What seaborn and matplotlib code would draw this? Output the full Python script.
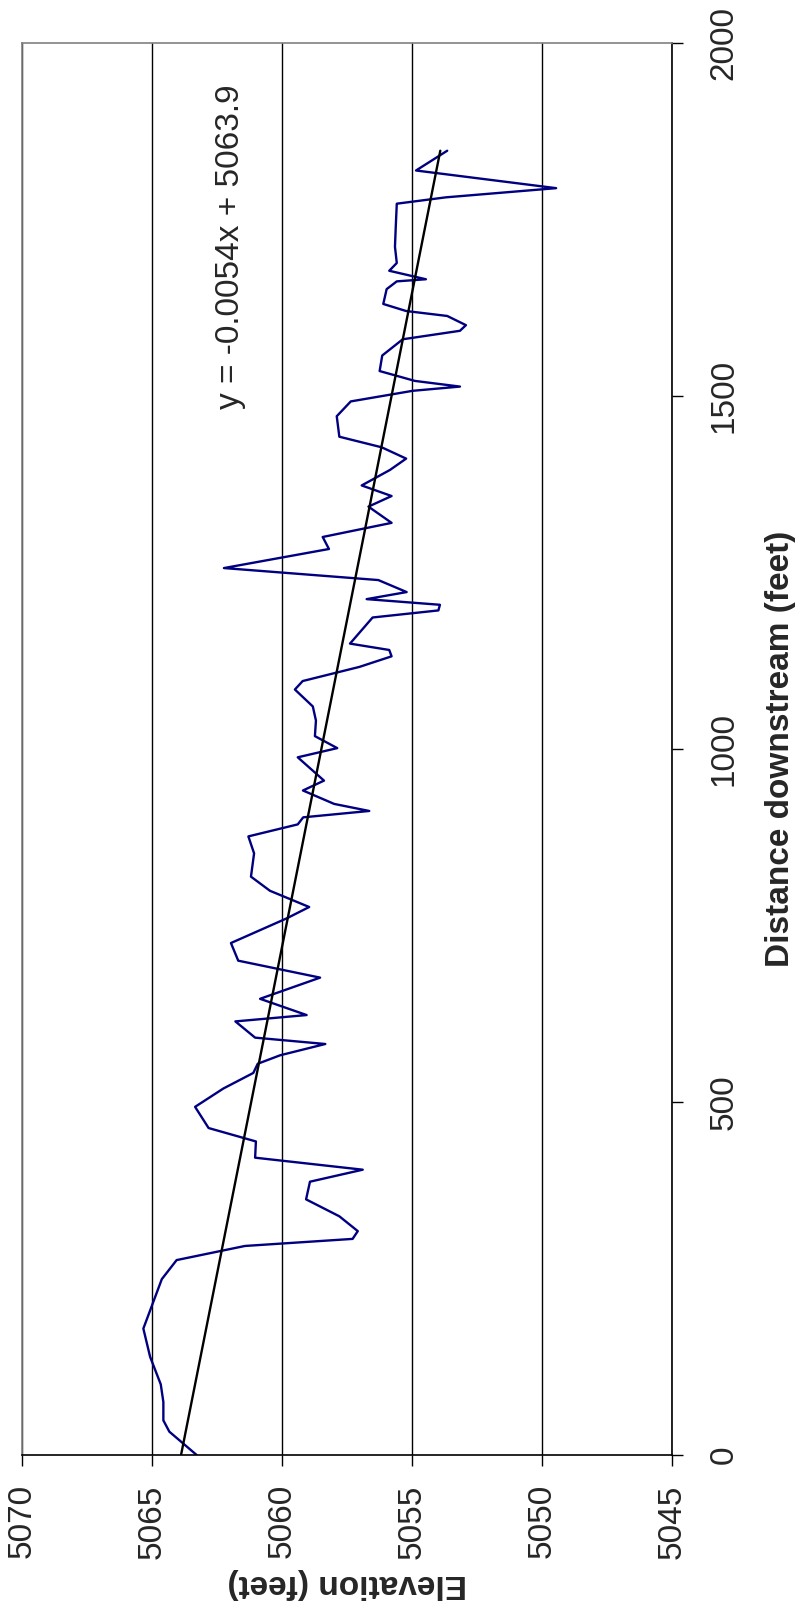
import numpy as np
import pandas as pd
import seaborn as sns
import matplotlib.pyplot as plt

# Seaborn look, then Arial-like font (must come after set_theme)
sns.set_theme(style="white")
plt.rcParams["font.family"] = ["Liberation Sans", "DejaVu Sans"]

# Stream profile survey: distance downstream (feet) and elevation (feet)
distance = [0, 33, 49, 75, 100, 139, 179, 249, 276, 296, 306, 317, 338, 362, 387,
            404, 421, 444, 463, 493, 519, 541, 554, 566, 582, 591, 614, 623, 646,
            676, 700, 725, 760, 776, 799, 819, 852, 876, 893, 903, 912, 922, 941,
            955, 988, 1001, 1018, 1040, 1060, 1084, 1096, 1116, 1131, 1140, 1149,
            1186, 1196, 1204, 1212, 1222, 1239, 1256, 1283, 1300, 1320, 1343,
            1358, 1373, 1395, 1411, 1427, 1442, 1471, 1492, 1507, 1513, 1521,
            1535, 1557, 1580, 1592, 1600, 1613, 1620, 1630, 1651, 1662, 1665,
            1677, 1688, 1711, 1739, 1772, 1781, 1794, 1819, 1847]
elevation = [5063.30, 5064.35, 5064.58, 5064.58, 5064.68, 5065.09, 5065.35, 5064.64,
             5064.07, 5061.44, 5057.30, 5057.10, 5057.81, 5059.09, 5058.94, 5056.91,
             5061.05, 5061.02, 5062.84, 5063.36, 5062.27, 5061.12, 5060.95, 5060.09,
             5058.35, 5061.05, 5061.81, 5059.07, 5060.86, 5058.55, 5061.70, 5061.98,
             5059.83, 5058.97, 5060.48, 5061.21, 5061.09, 5061.31, 5059.41, 5059.20,
             5056.66, 5058.01, 5059.21, 5058.40, 5059.41, 5057.89, 5058.75, 5058.71,
             5058.83, 5059.52, 5059.22, 5057.04, 5055.80, 5055.89, 5057.40, 5056.53,
             5054.00, 5053.94, 5056.76, 5055.22, 5056.31, 5062.25, 5058.21, 5058.45,
             5055.80, 5056.69, 5055.80, 5056.95, 5055.86, 5055.24, 5056.18, 5057.81,
             5057.91, 5057.37, 5054.99, 5053.17, 5054.90, 5056.26, 5056.16, 5055.37,
             5053.17, 5052.94, 5053.66, 5055.24, 5056.12, 5055.99, 5055.60, 5054.48,
             5055.89, 5055.60, 5055.67, 5055.64, 5055.60, 5053.71, 5049.47, 5054.86,
             5053.66]

# Linear trendline as reported on the chart
slope = -0.0054
intercept = 5063.9
equation = "y = -0.0054x + 5063.9"

elev_ticks = [5070, 5065, 5060, 5055, 5050, 5045]
dist_ticks = [0, 500, 1000, 1500, 2000]

df = pd.DataFrame({"Distance": distance, "Elevation": elevation})
trend_x = np.array([min(distance), max(distance)])
trend = pd.DataFrame({"Distance": trend_x, "Elevation": intercept + slope * trend_x})

"""
# Chart is drawn turned on its side: elevation across, distance up
"""

fig = plt.figure(figsize=(8, 16.17), dpi=100)
ax = fig.add_axes([0.0281, 0.1002, 0.8123, 0.8734])

sns.lineplot(data=df, x="Elevation", y="Distance", sort=False, estimator=None,
             color="#000080", linewidth=1.7, ax=ax)
sns.lineplot(data=trend, x="Elevation", y="Distance", sort=False, estimator=None,
             color="black", linewidth=1.7, ax=ax)

ax.set_xlim(5070, 5045)
ax.set_ylim(0, 2000)
ax.set_xticks(elev_ticks)
ax.set_yticks(dist_ticks)
ax.grid(axis="x", color="black", linewidth=1)
ax.grid(axis="y", visible=False)

for side in ["top", "left"]:
    ax.spines[side].set_color("#808080")
    ax.spines[side].set_linewidth(1.2)
for side in ["bottom", "right"]:
    ax.spines[side].set_color("black")
    ax.spines[side].set_linewidth(1.2)

ax.yaxis.tick_right()
ax.tick_params(axis="x", bottom=True, direction="out", length=8, width=1,
               color="black", pad=13, labelsize=24, labelrotation=90)
ax.tick_params(axis="y", right=True, left=False, direction="out", length=8, width=1,
               color="black", pad=18, labelsize=24, labelrotation=90)
for lbl in ax.get_yticklabels():
    lbl.set_va("center")

ax.set_xlabel("Elevation (feet)", fontsize=24, fontweight="bold", rotation=180,
              ha="center", va="center")
ax.xaxis.set_label_coords(0.5, -0.091)
ax.yaxis.set_label_position("right")
ax.set_ylabel("Distance downstream (feet)", fontsize=24, fontweight="bold",
              rotation=90, ha="center", va="center")
ax.yaxis.set_label_coords(1.166, 0.5)

ax.text(5062.0, 1711, equation, rotation=90, ha="center", va="center", fontsize=24)

fig.savefig("out.png", dpi=100)
